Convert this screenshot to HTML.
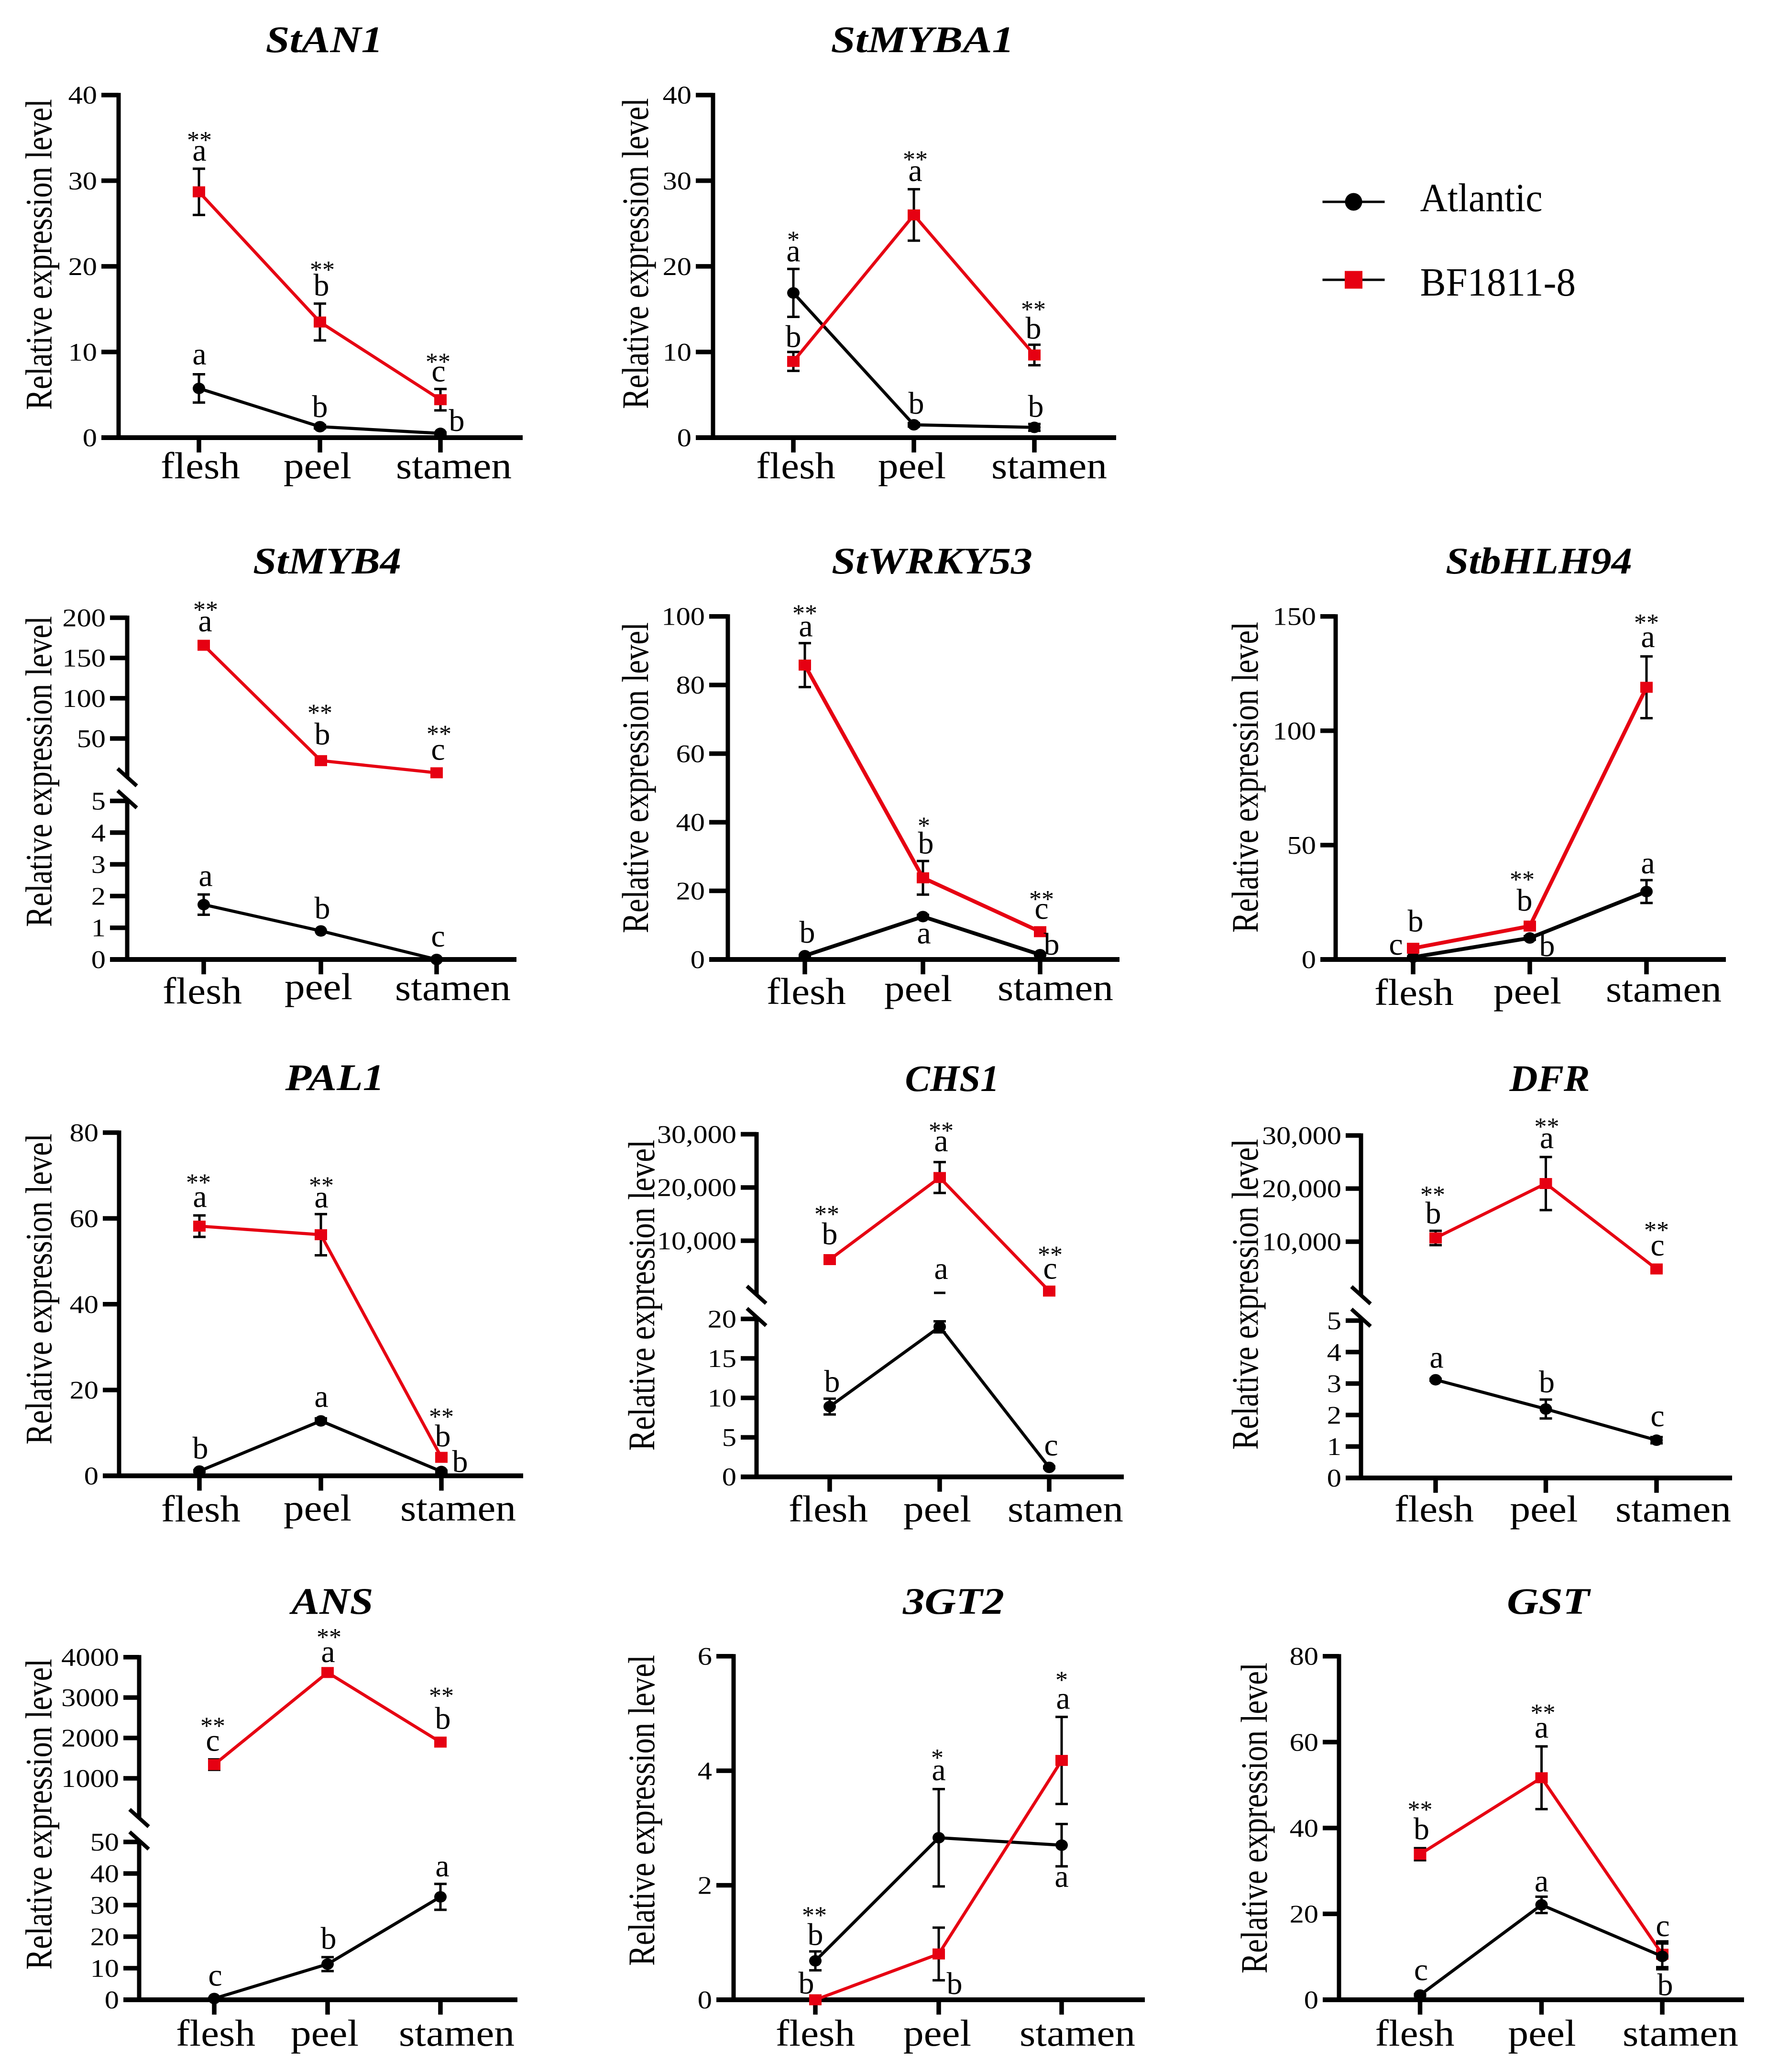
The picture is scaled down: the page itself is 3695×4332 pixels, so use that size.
<!DOCTYPE html>
<html lang="en">
<head>
<meta charset="utf-8">
<title>Relative expression levels by tissue</title>
<style>
html,body{margin:0;padding:0;background:#fff}
svg{display:block}
text{font-family:"Liberation Serif","Times New Roman",serif;fill:#000}
</style>
</head>
<body>
<svg id="figure" xmlns="http://www.w3.org/2000/svg" width="3695" height="4332" viewBox="0 0 3695 4332"></svg>
<script>
const categories = ['flesh', 'peel', 'stamen'];
const seriesNames = ['Atlantic', 'BF1811-8'];

const stAN1Atlantic = [5.75, 1.28, 0.5];
const stAN1AtlanticErr = [1.65, 0.2, 0.1];
const stAN1Red = [28.7, 13.5, 4.43];
const stAN1RedErr = [2.7, 2.15, 1.25];
const stAN1Ticks = [0, 10, 20, 30, 40];

const stMYBA1Atlantic = [16.9, 1.5, 1.2];
const stMYBA1AtlanticErr = [2.8, 0.2, 0.4];
const stMYBA1Red = [8.9, 26, 9.65];
const stMYBA1RedErr = [1.1, 3, 1.2];
const stMYBA1Ticks = [0, 10, 20, 30, 40];

const stMYB4Atlantic = [1.73, 0.9, 0];
const stMYB4AtlanticErr = [0.32, 0, 0];
const stMYB4Red = [165.8, 22.5, 7.4];
const stMYB4RedErr = [3, 2, 1];
const stMYB4TicksLow = [0, 1, 2, 3, 4, 5];
const stMYB4TicksHigh = [50, 100, 150, 200];

const stWRKY53Atlantic = [1.1, 12.5, 1.4];
const stWRKY53AtlanticErr = [0.2, 0.5, 0.2];
const stWRKY53Red = [85.8, 23.8, 8.1];
const stWRKY53RedErr = [6.4, 4.9, 0.8];
const stWRKY53Ticks = [0, 20, 40, 60, 80, 100];

const stbHLH94Atlantic = [1, 9.4, 29.7];
const stbHLH94AtlanticErr = [0.2, 0.8, 5];
const stbHLH94Red = [4.9, 14.6, 119];
const stbHLH94RedErr = [0.5, 1, 13.5];
const stbHLH94Ticks = [0, 50, 100, 150];

const pAL1Atlantic = [1.1, 12.8, 1];
const pAL1AtlanticErr = [0.2, 0.6, 0.2];
const pAL1Red = [58.2, 56.2, 4.3];
const pAL1RedErr = [2.5, 4.8, 0.3];
const pAL1Ticks = [0, 20, 40, 60, 80];

const cHS1Atlantic = [8.9, 19, 1.2];
const cHS1AtlanticErr = [1, 0.7, 0.1];
const cHS1Red = [6450, 21870, 540];
const cHS1RedErr = [500, 2900, 300];
const cHS1TicksLow = [0, 5, 10, 15, 20];
const cHS1TicksHigh = [10000, 20000, 30000];

const dFRAtlantic = [3.12, 2.19, 1.2];
const dFRAtlanticErr = [0.03, 0.3, 0.1];
const dFRRed = [10700, 20950, 4860];
const dFRRedErr = [1350, 5000, 300];
const dFRTicksLow = [0, 1, 2, 3, 4, 5];
const dFRTicksHigh = [10000, 20000, 30000];

const aNSAtlantic = [0.4, 11.3, 32.6];
const aNSAtlanticErr = [0.1, 2.2, 4.1];
const aNSRed = [1340, 3620, 1897];
const aNSRedErr = [130, 30, 30];
const aNSTicksLow = [0, 10, 20, 30, 40, 50];
const aNSTicksHigh = [1000, 2000, 3000, 4000];

const gT2Atlantic = [0.68, 2.83, 2.7];
const gT2AtlanticErr = [0.165, 0.85, 0.37];
const gT2Red = [0, 0.8, 4.18];
const gT2RedErr = [0.02, 0.46, 0.76];
const gT2Ticks = [0, 2, 4, 6];

const gSTAtlantic = [1.1, 22.1, 10.1];
const gSTAtlanticErr = [0.2, 1.9, 3];
const gSTRed = [33.9, 51.7, 10.6];
const gSTRedErr = [1.4, 7.3, 3];
const gSTTicks = [0, 20, 40, 60, 80];

const SVGNS = 'http://www.w3.org/2000/svg';
const RED = '#e60012';
const figure = document.getElementById('figure');

function make(parent, tag, attrs) {
  const el = document.createElementNS(SVGNS, tag);
  for (const k in attrs) { el.setAttribute(k, attrs[k]); }
  parent.appendChild(el);
  return el;
}

function label(parent, str, x, y, size, opts) {
  const o = opts || {};
  const attrs = { x: x, y: y, 'font-size': size, 'text-anchor': o.anchor || 'middle' };
  if (o.bold) { attrs['font-weight'] = 'bold'; }
  if (o.italic) { attrs['font-style'] = 'italic'; }
  if (o.rotate) { attrs.transform = 'rotate(-90 ' + x + ' ' + y + ')'; }
  const el = make(parent, 'text', attrs);
  el.textContent = str;
  let len = o.width;
  if (!len && o.stretch) { len = el.getComputedTextLength() * o.stretch; }
  if (len) {
    el.setAttribute('textLength', len);
    el.setAttribute('lengthAdjust', 'spacingAndGlyphs');
  }
  return el;
}

function stroke(parent, x1, y1, x2, y2, w, color) {
  return make(parent, 'line', { x1: x1, y1: y1, x2: x2, y2: y2, stroke: color || '#000', 'stroke-width': w });
}

function drawSeries(g, p, y, values, errs, isRed) {
  const key = isRed ? 'bf1811-8' : 'atlantic';
  const color = isRed ? RED : '#000';
  values.forEach(function (v, i) {
    const cx = p.catX[i];
    const err = errs[i];
    if (err > 0) {
      const top = y(v + err);
      const bottom = y(v - err);
      const bar = make(g, 'path', {
        d: 'M' + cx + ' ' + top + 'V' + bottom + 'M' + (cx - 13) + ' ' + top + 'H' + (cx + 13) + 'M' + (cx - 13) + ' ' + bottom + 'H' + (cx + 13),
        stroke: '#000', 'stroke-width': 5, fill: 'none'
      });
      
      
    }
  });
  const line = make(g, 'polyline', {
    points: values.map(function (v, i) { return p.catX[i] + ',' + y(v); }).join(' '),
    fill: 'none', stroke: color, 'stroke-width': p.lineW || 6.5, 'stroke-linejoin': 'miter'
  });
  
  
  values.forEach(function (v, i) {
    const cx = p.catX[i];
    const cy = y(v);
    const mark = isRed
      ? make(g, 'rect', { x: cx - 13, y: cy - 11.5, width: 26, height: 23, fill: RED })
      : make(g, 'ellipse', { cx: cx, cy: cy, rx: 13, ry: 12, fill: '#000' });
    
    
  });
}

function drawPanel(p) {
  const g = make(figure, 'g', {});
  
  

  const low = p.segments[0];
  const high = p.segments[1];
  const scale = function (s, v) {
    return s.range[0] + (v - s.domain[0]) / (s.domain[1] - s.domain[0]) * (s.range[1] - s.range[0]);
  };
  const y = function (v) {
    return (!high || v <= low.domain[1]) ? scale(low, v) : scale(high, v);
  };
  const y0 = y(0);

  const title = label(g, p.title, p.titleX, p.titleBase, 78, { bold: true, italic: true, width: p.titleW });
  
  

  const yTitle = label(g, 'Relative expression level', p.yTitleX, p.yTitleBottom, 78, { anchor: 'start', rotate: true, width: 650 });
  
  

  const topY = y(p.ticks[p.ticks.length - 1]);
  if (high) {
    const lowAxis = stroke(g, p.axisX, p.breaks[1], p.axisX, y0, 9);
    
    
    const highAxis = stroke(g, p.axisX, topY - 4.5, p.axisX, p.breaks[0], 9);
    
    
    p.breaks.forEach(function (b) {
      const mark = stroke(g, p.axisX - 20, b - 18, p.axisX + 20, b + 18, 8);
      
      
    });
  } else {
    const axis = stroke(g, p.axisX, topY - 4.5, p.axisX, y0, 9);
    
    
  }
  const xAxis = stroke(g, p.tickLeft, y0, p.xRight, y0, 10);
  
  

  p.ticks.forEach(function (t) {
    const ty = y(t);
    const tick = stroke(g, p.tickLeft, ty, p.axisX, ty, 9.5);
    
    
    const txt = t >= 10000 ? t.toLocaleString('en-US') : String(t);
    const tl = label(g, txt, p.tickLeft - 9, ty + 18, 53, { anchor: 'end', stretch: 1.14 });
    
    
  });

  categories.forEach(function (c, i) {
    const tick = stroke(g, p.catX[i], y0, p.catX[i], y0 + 31, 9.5);
    
    
    const cl = label(g, c, p.catX[i] + p.catDx[i], p.catBase[i], 78, { stretch: 1.095 });
    
    
  });

  if (p.blackOnTop) {
    drawSeries(g, p, y, p.red, p.redErr, true);
    drawSeries(g, p, y, p.atl, p.atlErr, false);
  } else {
    drawSeries(g, p, y, p.atl, p.atlErr, false);
    drawSeries(g, p, y, p.red, p.redErr, true);
  }

  if (p.capFragment) {
    const frag = p.capFragment;
    const fy = y(p.atl[frag.cat]) + frag.dy;
    const cap = stroke(g, p.catX[frag.cat] - 12, fy, p.catX[frag.cat] + 12, fy, 5);
    
    
  }

  p.notes.forEach(function (n) {
    const vals = n[0] === 'r' ? p.red : p.atl;
    const px = p.catX[n[1]] + n[3];
    const py = y(vals[n[1]]) + n[4];
    const isStar = n[2].indexOf('*') >= 0;
    const el = isStar ? label(g, n[2], px, py + 24, 52) : label(g, n[2], px, py, 66);
    
    
  });
}

drawPanel({
  title: 'StAN1', titleX: 678, titleBase: 109, titleW: 245,
  axisX: 248, tickLeft: 212, xRight: 1093, catX: [416, 669, 921],
  segments: [{ domain: [0, 40], range: [915, 198.7] }], ticks: stAN1Ticks,
  yTitleX: 107.5, yTitleBottom: 857, catBase: [1000, 1000, 1000], catDx: [3, -5, 28],
  atl: stAN1Atlantic, atlErr: stAN1AtlanticErr, red: stAN1Red, redErr: stAN1RedErr,
  notes: [
    ['r', 0, 'a', 1, -65], ['r', 0, '**', 1, -115],
    ['r', 1, 'b', 3, -55], ['r', 1, '**', 5, -116],
    ['r', 2, 'c', -4, -38], ['r', 2, '**', -5, -86],
    ['a', 0, 'a', 1, -50], ['a', 1, 'b', 0, -20], ['a', 2, 'b', 34, -5]
  ]
});

drawPanel({
  title: 'StMYBA1', titleX: 1929, titleBase: 109, titleW: 383,
  axisX: 1491, tickLeft: 1455, xRight: 2334, catX: [1659, 1911, 2163],
  segments: [{ domain: [0, 40], range: [915, 198.7] }], ticks: stMYBA1Ticks,
  yTitleX: 1355, yTitleBottom: 855, catBase: [1000, 1000, 1000], catDx: [5, -4, 31],
  atl: stMYBA1Atlantic, atlErr: stMYBA1AtlanticErr, red: stMYBA1Red, redErr: stMYBA1RedErr,
  notes: [
    ['a', 0, 'a', 0, -66], ['a', 0, '*', 0, -118],
    ['r', 0, 'b', 0, -30],
    ['r', 1, 'a', 3, -71], ['r', 1, '**', 3, -123],
    ['a', 1, 'b', 5, -23],
    ['r', 2, 'b', -2, -34], ['r', 2, '**', -2, -102],
    ['a', 2, 'b', 3, -22]
  ]
});

drawPanel({
  title: 'StMYB4', titleX: 684, titleBase: 1199, titleW: 310,
  axisX: 266, tickLeft: 230, xRight: 1080, catX: [426, 671, 913],
  segments: [{ domain: [0, 5], range: [2006, 1674.5] }, { domain: [50, 200], range: [1544, 1291.5] }],
  ticks: stMYB4TicksLow.concat(stMYB4TicksHigh), breaks: [1625, 1671],
  yTitleX: 107.5, yTitleBottom: 1938, catBase: [2098, 2089, 2091], catDx: [-3, -5, 34],
  atl: stMYB4Atlantic, atlErr: stMYB4AtlanticErr, red: stMYB4Red, redErr: stMYB4RedErr,
  notes: [
    ['r', 0, 'a', 3, -29], ['r', 0, '**', 4, -81],
    ['r', 1, 'b', 3, -34], ['r', 1, '**', -2, -107],
    ['r', 2, 'c', 3, -27], ['r', 2, '**', 5, -88],
    ['a', 0, 'a', 4, -39], ['a', 1, 'b', 3, -26], ['a', 2, 'c', 3, -27]
  ]
});

drawPanel({
  title: 'StWRKY53', titleX: 1949, titleBase: 1199, titleW: 420,
  axisX: 1522, tickLeft: 1483, xRight: 2341, catX: [1683, 1930, 2175], lineW: 8,
  segments: [{ domain: [0, 100], range: [2006, 1288.7] }], ticks: stWRKY53Ticks,
  yTitleX: 1355, yTitleBottom: 1951, catBase: [2099, 2093, 2091], catDx: [3, -10, 32],
  atl: stWRKY53Atlantic, atlErr: stWRKY53AtlanticErr, red: stWRKY53Red, redErr: stWRKY53RedErr,
  notes: [
    ['r', 0, 'a', 2, -60], ['r', 0, '**', 0, -115],
    ['r', 1, 'b', 6, -51], ['r', 1, '*', 2, -116],
    ['r', 2, 'c', 3, -27], ['r', 2, '**', 3, -75],
    ['a', 0, 'b', 5, -27], ['a', 1, 'a', 2, 56], ['a', 2, 'b', 24, 0]
  ]
});

drawPanel({
  title: 'StbHLH94', titleX: 3218, titleBase: 1199, titleW: 390,
  axisX: 2793, tickLeft: 2761, xRight: 3609, catX: [2955, 3199, 3443], lineW: 8,
  segments: [{ domain: [0, 150], range: [2006, 1288.7] }], ticks: stbHLH94Ticks,
  yTitleX: 2630, yTitleBottom: 1950, catBase: [2101, 2098, 2094], catDx: [2, -5, 36],
  atl: stbHLH94Atlantic, atlErr: stbHLH94AtlanticErr, red: stbHLH94Red, redErr: stbHLH94RedErr,
  notes: [
    ['r', 0, 'b', 5, -35], ['a', 0, 'c', -36, -5],
    ['r', 1, 'b', -11, -32], ['r', 1, '**', -16, -104],
    ['a', 1, 'b', 36, 38],
    ['r', 2, 'a', 3, -84], ['r', 2, '**', 0, -142],
    ['a', 2, 'a', 3, -38]
  ]
});

drawPanel({
  title: 'PAL1', titleX: 700, titleBase: 2279, titleW: 207,
  axisX: 249, tickLeft: 215, xRight: 1094, catX: [417, 671, 923],
  segments: [{ domain: [0, 80], range: [3085.5, 2368] }], ticks: pAL1Ticks,
  yTitleX: 107.5, yTitleBottom: 3020, catBase: [3181, 3179, 3179], catDx: [3, -7, 35],
  atl: pAL1Atlantic, atlErr: pAL1AtlanticErr, red: pAL1Red, redErr: pAL1RedErr,
  notes: [
    ['r', 0, 'a', 1, -40], ['r', 0, '**', -2, -98],
    ['r', 1, 'a', 1, -57], ['r', 1, '**', 1, -110],
    ['r', 2, 'b', 3, -23], ['r', 2, '**', 0, -92],
    ['a', 0, 'b', 2, -26], ['a', 1, 'a', 1, -29], ['a', 2, 'b', 39, 1]
  ]
});

drawPanel({
  title: 'CHS1', titleX: 1991, titleBase: 2281, titleW: 197,
  axisX: 1582, tickLeft: 1549, xRight: 2350, catX: [1735, 1965, 2194],
  segments: [{ domain: [0, 20], range: [3087.7, 2757.5] }, { domain: [10000, 30000], range: [2594, 2371.4] }],
  ticks: cHS1TicksLow.concat(cHS1TicksHigh), breaks: [2707, 2753.5],
  yTitleX: 1368, yTitleBottom: 3033, catBase: [3181, 3181, 3181], catDx: [-3, -5, 34],
  atl: cHS1Atlantic, atlErr: cHS1AtlanticErr, red: cHS1Red, redErr: cHS1RedErr,
  capFragment: { cat: 1, dy: -71 },
  notes: [
    ['r', 0, 'b', 0, -32], ['r', 0, '**', -6, -102],
    ['r', 1, 'a', 3, -55], ['r', 1, '**', 3, -105],
    ['r', 2, 'c', 2, -26], ['r', 2, '**', 2, -83],
    ['a', 0, 'b', 5, -31], ['a', 1, 'a', 3, -100], ['a', 2, 'c', 4, -25]
  ]
});

drawPanel({
  title: 'DFR', titleX: 3240.5, titleBase: 2281, titleW: 168,
  axisX: 2846, tickLeft: 2814, xRight: 3622, catX: [3002, 3232.5, 3464],
  segments: [{ domain: [0, 5], range: [3090, 2761] }, { domain: [10000, 30000], range: [2596, 2374] }],
  ticks: dFRTicksLow.concat(dFRTicksHigh), breaks: [2708, 2755],
  yTitleX: 2630, yTitleBottom: 3031, catBase: [3181, 3181, 3181], catDx: [-3, -4, 35],
  atl: dFRAtlantic, atlErr: dFRAtlanticErr, red: dFRRed, redErr: dFRRedErr,
  notes: [
    ['r', 0, 'b', -5, -30], ['r', 0, '**', -6, -97],
    ['r', 1, 'a', 2, -74], ['r', 1, '**', 2, -126],
    ['r', 2, 'c', 2, -28], ['r', 2, '**', 0, -88],
    ['a', 0, 'a', 2, -25], ['a', 1, 'b', 2, -35], ['a', 2, 'c', 2, -29]
  ]
});

drawPanel({
  title: 'ANS', titleX: 695, titleBase: 3374, titleW: 171,
  axisX: 291, tickLeft: 258, xRight: 1082, catX: [448, 685, 921],
  segments: [{ domain: [0, 50], range: [4181, 3851] }, { domain: [1000, 4000], range: [3718, 3464.7] }],
  ticks: aNSTicksLow.concat(aNSTicksHigh), breaks: [3801, 3848],
  yTitleX: 107.5, yTitleBottom: 4118, catBase: [4277, 4277, 4277], catDx: [3, -6, 34],
  atl: aNSAtlantic, atlErr: aNSAtlanticErr, red: aNSRed, redErr: aNSRedErr,
  notes: [
    ['r', 0, 'c', -3, -29], ['r', 0, '**', -3, -88],
    ['r', 1, 'a', 1, -22], ['r', 1, '**', 3, -81],
    ['r', 2, 'b', 5, -28], ['r', 2, '**', 2, -104],
    ['a', 0, 'c', 2, -27], ['a', 1, 'b', 2, -32], ['a', 2, 'a', 4, -43]
  ]
});

drawPanel({
  title: '3GT2', titleX: 1994, titleBase: 3374, titleW: 212,
  axisX: 1534, tickLeft: 1498, xRight: 2394, catX: [1705, 1963, 2220],
  segments: [{ domain: [0, 6], range: [4181, 3462.7] }], ticks: gT2Ticks,
  yTitleX: 1368, yTitleBottom: 4110, catBase: [4277, 4277, 4277], catDx: [0, -3, 33],
  atl: gT2Atlantic, atlErr: gT2AtlanticErr, red: gT2Red, redErr: gT2RedErr,
  notes: [
    ['a', 0, 'b', 0, -33], ['a', 0, '**', -2, -102],
    ['a', 1, 'a', 0, -120], ['a', 1, '*', -3, -174],
    ['a', 2, 'a', 0, 87],
    ['r', 0, 'b', -19, -13], ['r', 1, 'b', 33, 84],
    ['r', 2, 'a', 3, -108], ['r', 2, '*', 0, -175]
  ]
});

drawPanel({
  title: 'GST', titleX: 3237.5, titleBase: 3374, titleW: 173,
  axisX: 2800, tickLeft: 2766, xRight: 3647, catX: [2969.5, 3223.5, 3476], blackOnTop: true,
  segments: [{ domain: [0, 80], range: [4181, 3462.7] }], ticks: gSTTicks,
  yTitleX: 2649, yTitleBottom: 4126, catBase: [4277, 4277, 4277], catDx: [-11, 1, 38],
  atl: gSTAtlantic, atlErr: gSTAtlanticErr, red: gSTRed, redErr: gSTRedErr,
  notes: [
    ['r', 0, 'b', 3, -31], ['r', 0, '**', 0, -100],
    ['r', 1, 'a', 0, -84], ['r', 1, '**', 3, -143],
    ['r', 2, 'c', 1, -38], ['a', 2, 'b', 6, 81],
    ['a', 0, 'c', 2, -31], ['a', 1, 'a', 0, -28]
  ]
});

const legend = make(figure, 'g', {});



const legendLine1 = stroke(legend, 2765.5, 422, 2895.5, 422, 5);


const legendDot = make(legend, 'ellipse', { cx: 2830.5, cy: 422, rx: 18, ry: 18.5, fill: '#000' });


const legendText1 = label(legend, seriesNames[0], 2969.5, 441.5, 84, { anchor: 'start', width: 256 });



const legendLine2 = stroke(legend, 2765.5, 585, 2895.5, 585, 5);


const legendSquare = make(legend, 'rect', { x: 2812, y: 566.5, width: 37, height: 37, fill: RED });


const legendText2 = label(legend, seriesNames[1], 2969.5, 618, 84, { anchor: 'start', width: 325.5 });


</script>
</body>
</html>
